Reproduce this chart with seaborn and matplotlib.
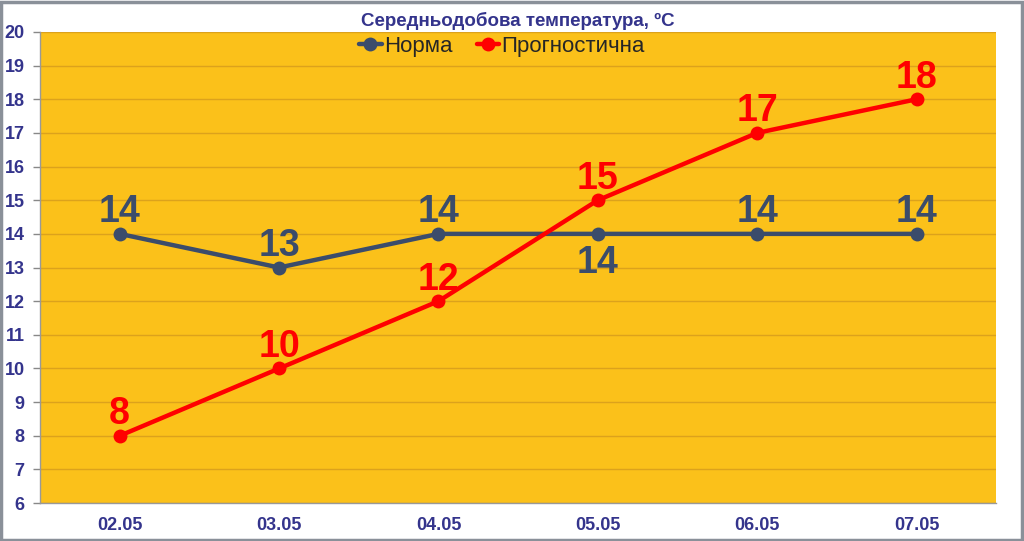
import numpy as np
import pandas as pd
import matplotlib
matplotlib.use("Agg")
import matplotlib.pyplot as plt
import seaborn as sns
from matplotlib.patches import Rectangle

# chart data
dates = ["02.05", "03.05", "04.05", "05.05", "06.05", "07.05"]
norma = [14, 13, 14, 14, 14, 14]
prognoz = [8, 10, 12, 15, 17, 18]
series_names = ["Норма", "Прогностична"]
y_ticks = list(range(6, 21))

navy = "#3B4C6B"
red = "#FF0000"
text_blue = "#34348C"

df = pd.DataFrame({
    "date": dates * 2,
    "value": norma + prognoz,
    "series": [series_names[0]] * len(dates) + [series_names[1]] * len(dates),
})
df["pos"] = list(range(len(dates))) * 2

sns.set_style("white")
plt.rcParams['font.family'] = ['Liberation Sans', 'DejaVu Sans']

fig = plt.figure(figsize=(10.24, 5.41), dpi=100)
ax = fig.add_axes([0.039, 0.070, 0.934, 0.871])
ax.set_facecolor("#FBC11A")

sns.lineplot(data=df, x="pos", y="value", hue="series", palette=[navy, red],
             marker="o", markersize=10, markeredgewidth=0, linewidth=3.2, ax=ax)

ax.set_xlim(-0.5, len(dates) - 0.5)
ax.set_ylim(6, 20)
ax.set_yticks(y_ticks)
ax.set_xticks(range(len(dates)))
ax.set_xticklabels(dates)
ax.set_xticks(np.arange(-0.5, len(dates), 1), minor=True)
ax.tick_params(axis="x", which="major", length=0, pad=10, labelsize=13, labelcolor=text_blue)
ax.tick_params(axis="x", which="minor", length=5, color="#888888", width=1)
ax.tick_params(axis="y", which="major", length=5, color="#888888", width=1, pad=6,
               labelsize=13, labelcolor=text_blue, left=True)
for lab in ax.get_xticklabels() + ax.get_yticklabels():
    lab.set_fontweight("bold")
ax.set_xlabel("")
ax.set_ylabel("")

ax.grid(axis="y", color="#DCA21C", linewidth=1)
ax.set_axisbelow(True)
for side in ["top", "right"]:
    ax.spines[side].set_visible(False)
for side in ["left", "bottom"]:
    ax.spines[side].set_color("#999999")
    ax.spines[side].set_linewidth(1)

# data labels
for i, v in enumerate(norma):
    if i == 3:
        ax.annotate(str(v), (i, v), xytext=(0, -8), textcoords="offset points",
                    ha="center", va="top", fontsize=27, fontweight="bold", color=navy)
    else:
        ax.annotate(str(v), (i, v), xytext=(0, 2.5), textcoords="offset points",
                    ha="center", va="bottom", fontsize=27, fontweight="bold", color=navy)
for i, v in enumerate(prognoz):
    ax.annotate(str(v), (i, v), xytext=(0, 2.5), textcoords="offset points",
                ha="center", va="bottom", fontsize=27, fontweight="bold", color=red)

leg = ax.legend(loc="center", bbox_to_anchor=(0.483, 0.969), ncol=2, frameon=False,
                fontsize=16, handlelength=1.0, handletextpad=0.1, columnspacing=1.1)

fig.text(0.506, 0.962, "Середньодобова температура, ºC", ha="center", va="center",
         fontsize=13.5, fontweight="bold", color=text_blue)

fig.patches.append(Rectangle((0.001, 0.002), 0.997, 0.995, transform=fig.transFigure,
                             fill=False, edgecolor="#8A9099", linewidth=2.5))

fig.savefig("out.png", dpi=100)
